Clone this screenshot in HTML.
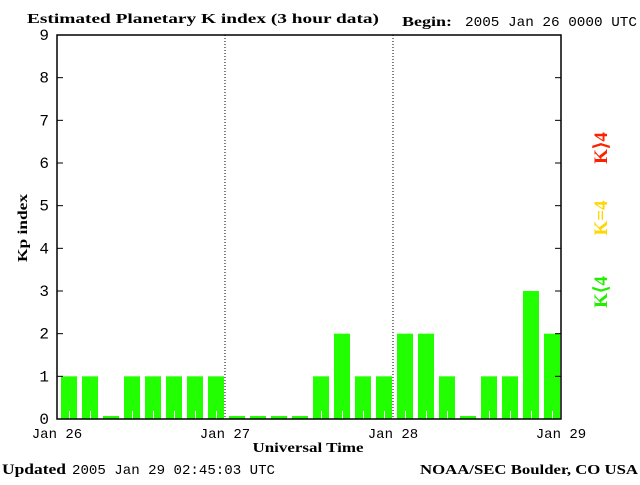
<!DOCTYPE html>
<html><head><meta charset="utf-8"><style>
body{margin:0;background:#fff;}
svg text{font-family:"Liberation Mono",monospace;}
</style></head><body>
<svg id="chart" width="640" height="480" xmlns="http://www.w3.org/2000/svg">
<text x="27" y="23" font-size="14" font-weight="bold" textLength="352" lengthAdjust="spacingAndGlyphs" style="font-family:'Liberation Serif',serif">Estimated Planetary K index (3 hour data)</text>
<text x="402" y="26" font-size="14" font-weight="bold" textLength="50" lengthAdjust="spacingAndGlyphs" style="font-family:'Liberation Serif',serif">Begin:</text>
<text x="465" y="26" font-size="14" textLength="172" lengthAdjust="spacingAndGlyphs">2005 Jan 26 0000 UTC</text>
<g id="bars"></g>
<g id="axes"></g>
<text x="0" y="0" transform="translate(27,228) rotate(-90)" text-anchor="middle" font-size="14" font-weight="bold" textLength="68" lengthAdjust="spacingAndGlyphs" style="font-family:'Liberation Serif',serif">Kp index</text>
<text x="308" y="452" text-anchor="middle" font-size="14" font-weight="bold" textLength="111" lengthAdjust="spacingAndGlyphs" style="font-family:'Liberation Serif',serif">Universal Time</text>
<text x="2" y="474" font-size="15" font-weight="bold" textLength="64" lengthAdjust="spacingAndGlyphs" style="font-family:'Liberation Serif',serif">Updated</text>
<text x="72" y="474" font-size="14" textLength="203" lengthAdjust="spacingAndGlyphs">2005 Jan 29 02:45:03 UTC</text>
<text x="420" y="474" font-size="14" font-weight="bold" textLength="218" lengthAdjust="spacingAndGlyphs" style="font-family:'Liberation Serif',serif">NOAA/SEC Boulder, CO USA</text>
<text transform="translate(607,148) rotate(-90)" text-anchor="middle" font-size="19" font-weight="bold" fill="#ff2000" style="font-family:'Liberation Serif',serif">K⟩4</text>
<text transform="translate(607,218) rotate(-90)" text-anchor="middle" font-size="19" font-weight="bold" fill="#ffd700" style="font-family:'Liberation Serif',serif">K=4</text>
<text transform="translate(607,292) rotate(-90)" text-anchor="middle" font-size="19" font-weight="bold" fill="#22ee00" style="font-family:'Liberation Serif',serif">K⟨4</text>
</svg>
<script>
const kpValues=[1,1,0,1,1,1,1,1, 0,0,0,0,1,2,1,1, 2,2,1,0,1,1,3,2];
const dayLabels=["Jan 26","Jan 27","Jan 28","Jan 29"];
const yTicks=[0,1,2,3,4,5,6,7,8,9];
const NS="http://www.w3.org/2000/svg";
const L=57,R=561,T=35,B=419;
const x=i=>L+(R-L)*i/kpValues.length;
const y=v=>B-(B-T)*v/9;
function mk(tag,at,parent){const e=document.createElementNS(NS,tag);for(const k in at)e.setAttribute(k,at[k]);parent.appendChild(e);return e;}
const bars=document.getElementById('bars'),axes=document.getElementById('axes');
kpValues.forEach((v,i)=>{
  const vv=v===0?0.07:v;
  const col=v>4?'#ff2000':(v===4?'#ffd700':'#22ff00');
  const r=mk('rect',{x:x(i)+4,y:y(vv),width:x(i+1)-x(i)-5,height:B-y(vv),fill:col},bars);
  
  
  const m=(x(i)+x(i+1))/2+2;
  if(v>0){const t=mk('line',{x1:m,x2:m,y1:B-8,y2:B,stroke:'#fff','stroke-width':1},bars);
  
  }
});
mk('rect',{x:L,y:T,width:R-L,height:B-T,fill:'none',stroke:'#000','stroke-width':1.5},axes);
yTicks.forEach(t=>{
  mk('line',{x1:L,x2:L+6,y1:y(t),y2:y(t),stroke:'#000'},axes);
  mk('line',{x1:R-6,x2:R,y1:y(t),y2:y(t),stroke:'#000'},axes);
  const tx=mk('text',{x:49,y:y(t)+5,'text-anchor':'end','font-size':16},axes);
  tx.textContent=t;
  
  
});
const nd=dayLabels.length-1;
dayLabels.forEach((d,i)=>{
  const xx=L+(R-L)*i/nd;
  if(i>0&&i<nd){mk('line',{x1:xx,x2:xx,y1:T,y2:B,stroke:'#000','stroke-dasharray':'1,2'},axes);}
  const tx=mk('text',{x:xx,y:438,'text-anchor':'middle','font-size':14},axes);
  tx.textContent=d;
  
  
});
</script>
</body></html>
